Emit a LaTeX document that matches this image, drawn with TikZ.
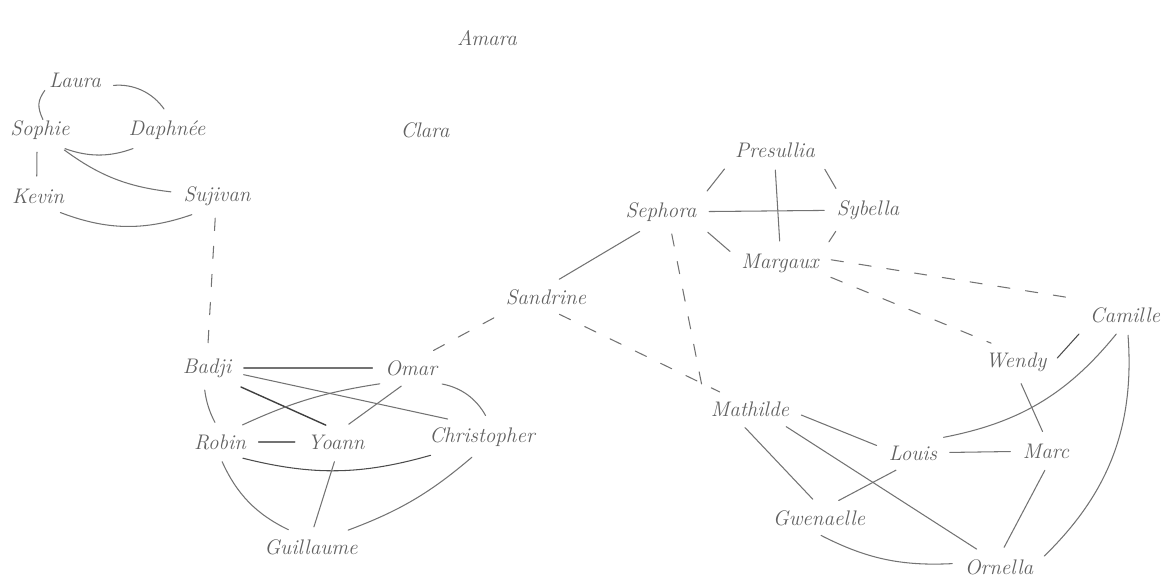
\documentclass[tikz,border=0pt]{standalone}
\begin{document}
\begin{tikzpicture}[x=0.02cm,y=-0.02cm,
  pupil/.style={text=black!62, font=\large\itshape, inner sep=4pt},
  tie/.style={draw=black!55, line width=0.6pt, line cap=round, shorten <=3pt, shorten >=3pt},
  weak/.style={tie, dash pattern=on 7pt off 9pt}]
\path[use as bounding box] (0,0) rectangle (1174,577);

% isolated pupils
\node[pupil] (amara) at (487,38) {Amara};
\node[pupil] (clara) at (425,130) {Clara};

% group of six, upper left
\node[pupil] (laura) at (75,80) {Laura};
\node[pupil] (sophie) at (40,130) {Sophie};
\node[pupil] (daphnee) at (167,130) {Daphnée};
\node[pupil] (kevin) at (38,196) {Kevin};
\node[pupil] (sujivan) at (217,196) {Sujivan};

% group of six, lower left
\node[pupil] (badji) at (207,368) {Badji};
\node[pupil] (omar) at (411,368) {Omar};
\node[pupil] (robin) at (220,442) {Robin};
\node[pupil] (yoann) at (336,442) {Yoann};
\node[pupil] (christopher) at (482,437) {Christopher};
\node[pupil] (guillaume) at (311,547) {Guillaume};

% centre group
\node[pupil] (presullia) at (775,150) {Presullia};
\node[pupil] (sephora) at (661,212) {Sephora};
\node[pupil] (sybella) at (868,210) {Sybella};
\node[pupil] (margaux) at (780,263) {Margaux};
\node[pupil] (sandrine) at (546,297) {Sandrine};

% right group
\node[pupil] (camille) at (1125,315) {Camille};
\node[pupil] (wendy) at (1016,362) {Wendy};
\node[pupil] (mathilde) at (750,409) {Mathilde};
\node[pupil] (louis) at (913,453) {Louis};
\node[pupil] (marc) at (1046,451) {Marc};
\node[pupil] (gwenaelle) at (819,518) {Gwenaelle};
\node[pupil] (ornella) at (999,567) {Ornella};

% upper-left ties
\draw[tie, shorten <=-4pt, shorten >=-3pt] (sophie.north) to[bend left=30] (laura.south west);
\draw[tie] (laura.-10) to[bend left=30] (daphnee.north);
\draw[tie] (sophie.-40) to[bend right=20] (daphnee.-150);
\draw[tie] (sophie.-100) -- (kevin.95);
\draw[tie] (sophie.-40) to[bend right=15] (sujivan.175);
\draw[tie] (kevin.-40) to[bend right=20] (sujivan.-140);
\draw[weak] (sujivan.-95) -- (badji.88);

% lower-left ties
\draw[tie] (badji) -- (omar);
\draw[tie, draw=black!75, line width=0.8pt] (badji.-30) -- (yoann.110);
\draw[tie] (badji.-10) -- (christopher.150);
\draw[tie] (badji.-100) to[bend right=10] (robin.100);
\draw[tie] (omar.-150) to[bend right=8] (robin.40);
\draw[tie] (omar.-110) -- (yoann.60);
\draw[tie] (omar.-30) to[bend left=25] (christopher.70);
\draw[tie] (robin) -- (yoann);
\draw[tie, draw=black!70] (robin.-40) to[bend right=15] (christopher.-160);
\draw[tie] (robin.-90) to[bend right=20] (guillaume.140);
\draw[tie] (yoann.-90) -- (guillaume.85);
\draw[tie] (christopher.-110) to[bend left=10] (guillaume.25);
\draw[weak] (omar.40) -- (sandrine.-160);

% centre ties
\draw[tie] (sandrine.60) -- (sephora.-135);
\draw[weak] (sandrine.-60) -- (mathilde.150);
\draw[weak] (sephora.-60) -- (mathilde.north west);
\draw[tie] (sephora.north east) -- (presullia.south west);
\draw[tie] (sephora) -- (sybella);
\draw[tie] (presullia.-90) -- (margaux.90);
\draw[tie] (presullia.south east) -- (sybella.150);
\draw[tie] (sybella.-150) -- (margaux.north east);
\draw[tie] (sephora.south east) -- (margaux.170);
\draw[weak] (margaux.5) -- (camille.160);
\draw[weak] (margaux.-15) -- (wendy.140);

% right-hand ties
\draw[tie, draw=black!70] (camille.south west) -- (wendy.east);
\draw[tie] (camille.-110) to[bend left=20] (louis.30);
\draw[tie] (camille.-80) to[bend left=25] (ornella.10);
\draw[tie] (wendy.-80) -- (marc.95);
\draw[tie] (louis) -- (marc);
\draw[tie] (mathilde.-5) -- (louis.170);
\draw[tie] (mathilde.-25) -- (ornella.140);
\draw[tie] (mathilde.-120) -- (gwenaelle.100);
\draw[tie] (louis.-130) -- (gwenaelle.45);
\draw[tie] (marc.-85) -- (ornella.80);
\draw[tie] (gwenaelle.-100) to[bend right=15] (ornella.175);
\end{tikzpicture}
\end{document}
